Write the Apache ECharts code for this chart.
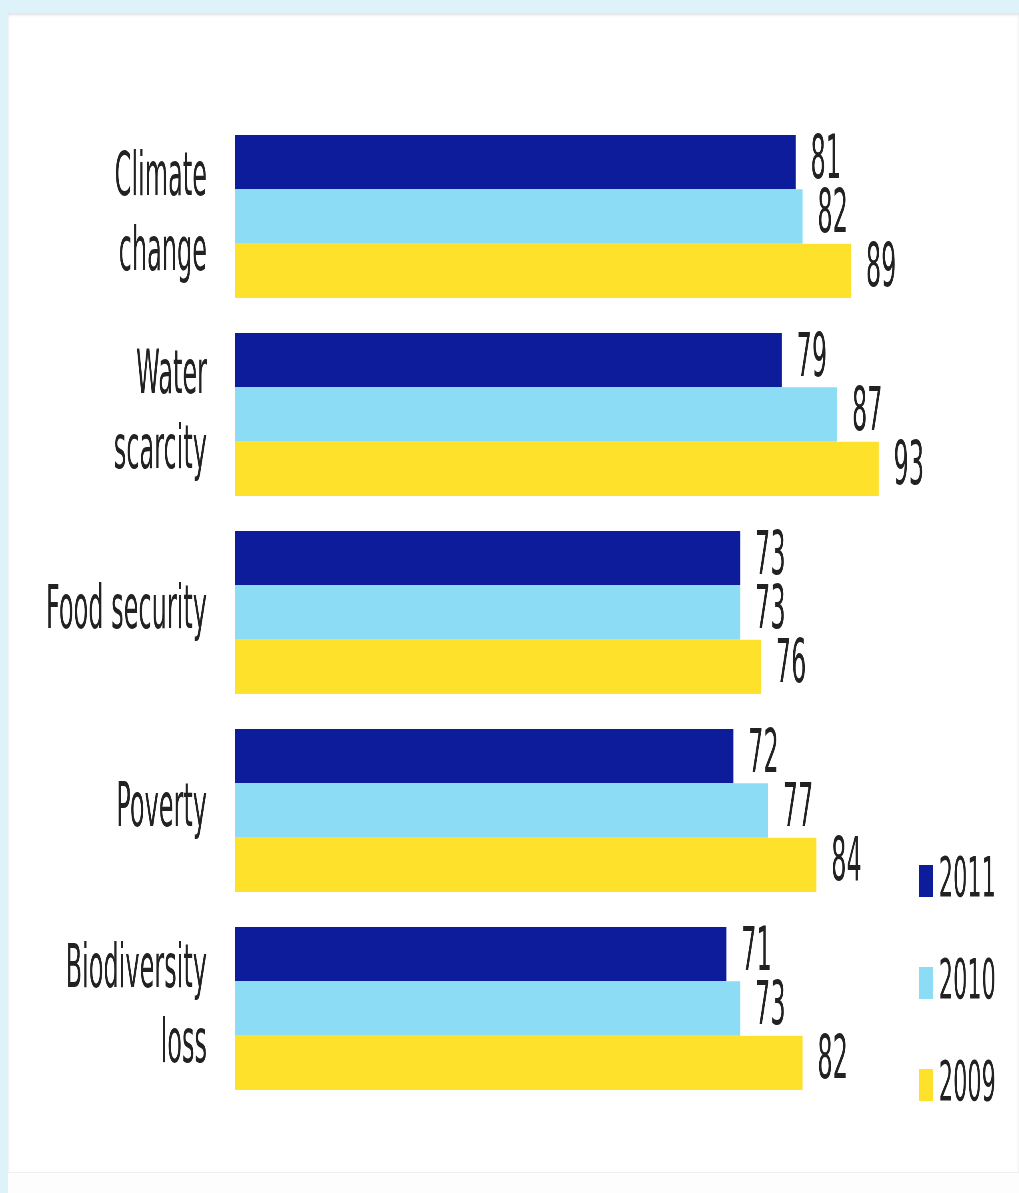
<!DOCTYPE html>
<html>
<head>
<meta charset="utf-8">
<script src="https://cdn.jsdelivr.net/npm/echarts@6/dist/echarts.min.js"></script>
<style>
  html, body { margin: 0; padding: 0; width: 1019px; height: 1193px; overflow: hidden; background: #ddf3f9; }
  #panel { position: absolute; left: 8px; top: 13px; width: 1011px; height: 1180px; background: #ffffff; box-shadow: inset 0 2px 3px rgba(0,0,0,0.12); }
  #panel2 { position: absolute; left: 8px; top: 1172px; width: 1011px; height: 21px; background: #fdfdfd; border-top: 1px solid #f0f0f0; }
  #chart { position: absolute; left: 0; top: 0; width: 2547.5px; height: 1193px; transform: scaleX(0.4); transform-origin: 0 0; }
</style>
</head>
<body>
<div id="panel"></div>
<div id="panel2"></div>
<div id="chart"></div>
<script>
const categories = ['Climate\nchange', 'Water\nscarcity', 'Food security', 'Poverty', 'Biodiversity\nloss'];
const seriesNames = ['2011', '2010', '2009'];
const values2011 = [81, 79, 73, 72, 71];
const values2010 = [82, 87, 73, 77, 73];
const values2009 = [89, 93, 76, 84, 82];
const colors = ['#0c1c9a', '#8ddcf6', '#fde12a'];

const chart = echarts.init(document.getElementById('chart'));
const font = 'DejaVu Sans';
const allValues = [values2011, values2010, values2009];

chart.setOption({
  animation: false,
  grid: { left: 587.5, right: 230, top: 117.5, bottom: 85.5, containLabel: false },
  legend: {
    orient: 'vertical',
    left: 2292,
    top: 845,
    itemWidth: 35,
    itemHeight: 32,
    itemGap: 40,
    icon: 'rect',
    textStyle: { fontFamily: font, fontSize: 56, color: '#222', lineHeight: 62, padding: [0, 0, 0, 10] },
    data: seriesNames
  },
  xAxis: { type: 'value', min: 0, max: 100, show: false },
  yAxis: {
    type: 'category',
    inverse: true,
    data: categories,
    axisLine: { show: false },
    axisTick: { show: false },
    axisLabel: { fontFamily: font, fontSize: 60, lineHeight: 75, color: '#222', margin: 70, align: 'right' }
  },
  series: seriesNames.map((name, i) => ({
    name: name,
    type: 'bar',
    data: allValues[i],
    barGap: '0%',
    barCategoryGap: '17.7%',
    itemStyle: { color: colors[i] },
    label: { show: true, position: 'right', distance: 37, fontFamily: font, fontSize: 60, color: '#222' }
  }))
});
</script>
</body>
</html>
